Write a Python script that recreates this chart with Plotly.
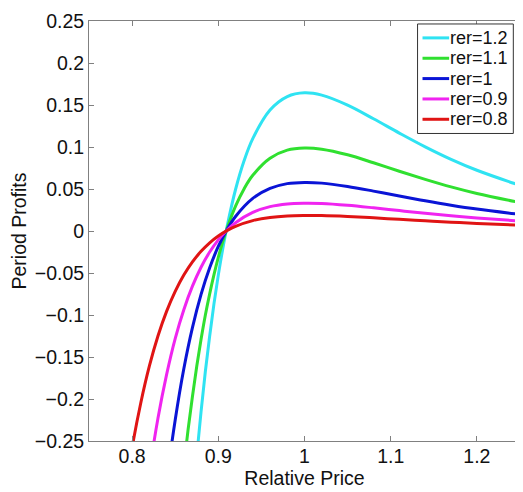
import plotly.graph_objects as go

# Relative price grids and period profits
x_red = [0.79, 0.80, 0.81, 0.82, 0.83, 0.84, 0.85, 0.86, 0.87, 0.88, 0.89, 0.90, 0.91, 0.92, 0.94, 0.96, 0.98, 1.00,
         1.02, 1.05, 1.08, 1.11, 1.14, 1.17, 1.20, 1.25]
y_red = [-0.324, -0.258, -0.205, -0.161, -0.125, -0.0957, -0.0719, -0.0525, -0.0368, -0.0242, -0.0140, -0.0059,
         0.0005, 0.0056, 0.0124, 0.0162, 0.0180, 0.0185,
         0.0184, 0.0173, 0.0157, 0.0139, 0.0122, 0.0105, 0.0090, 0.0070]

x_magenta = [0.81, 0.82, 0.83, 0.84, 0.85, 0.86, 0.87, 0.88, 0.89, 0.90, 0.91, 0.92, 0.94, 0.96, 0.98, 1.00,
             1.02, 1.05, 1.08, 1.11, 1.14, 1.17, 1.20, 1.25]
y_magenta = [-0.365, -0.287, -0.223, -0.171, -0.128, -0.0937, -0.0657, -0.0431, -0.0250, -0.0105,
             0.0009, 0.0099, 0.0221, 0.0290, 0.0322, 0.0330,
             0.0327, 0.0306, 0.0276, 0.0243, 0.0211, 0.0182, 0.0156, 0.0119]

x_blue = [0.83, 0.84, 0.85, 0.86, 0.87, 0.88, 0.89, 0.90, 0.91, 0.92, 0.94, 0.96, 0.98, 1.00,
          1.02, 1.05, 1.08, 1.11, 1.14, 1.17, 1.20, 1.25]
y_blue = [-0.391, -0.299, -0.225, -0.164, -0.115, -0.0755, -0.0438, -0.0184, 0.0016, 0.0173, 0.0388, 0.0507,
          0.0564, 0.0578,
          0.0570, 0.0530, 0.0475, 0.0416, 0.0359, 0.0307, 0.0261, 0.0197]

x_green = [0.85, 0.855, 0.86, 0.865, 0.87, 0.875, 0.88, 0.885, 0.89, 0.895, 0.90, 0.905, 0.91, 0.92, 0.93, 0.94,
           0.96, 0.98, 1.00, 1.02, 1.05, 1.08, 1.11, 1.14, 1.17, 1.20, 1.25]
y_green = [-0.384, -0.329, -0.280, -0.236, -0.197, -0.161, -0.129, -0.100, -0.0748, -0.0520, -0.0315, -0.0133,
           0.0027, 0.0296, 0.0504, 0.0663, 0.0867, 0.0963, 0.0988,
           0.0974, 0.0907, 0.0812, 0.0711, 0.0615, 0.0525, 0.0447, 0.0338]

x_cyan = [0.865, 0.87, 0.875, 0.88, 0.885, 0.89, 0.895, 0.90, 0.905, 0.91, 0.92, 0.93, 0.94, 0.96, 0.98, 1.00,
          1.02, 1.05, 1.08, 1.11, 1.14, 1.17, 1.20, 1.25]
y_cyan = [-0.393, -0.327, -0.268, -0.215, -0.167, -0.125, -0.0865, -0.0525, -0.0222, 0.0045, 0.0494, 0.0839,
          0.110, 0.144, 0.160, 0.1645,
          0.1617, 0.1498, 0.1336, 0.1166, 0.1002, 0.0853, 0.0723, 0.0543]

series_names = ["rer=1.2", "rer=1.1", "rer=1", "rer=0.9", "rer=0.8"]

x_tickvals = [0.8, 0.9, 1.0, 1.1, 1.2]
x_ticktext = ["0.8", "0.9", "1", "1.1", "1.2"]
y_tickvals = [0.25, 0.2, 0.15, 0.1, 0.05, 0, -0.05, -0.1, -0.15, -0.2, -0.25]
y_ticktext = ["0.25", "0.2", "0.15", "0.1", "0.05", "0", "\u22120.05", "\u22120.1", "\u22120.15", "\u22120.2", "\u22120.25"]

colors = ["#2fe3f2", "#30e030", "#0a14d6", "#f024f0", "#e01414"]
xs = [x_cyan, x_green, x_blue, x_magenta, x_red]
ys = [y_cyan, y_green, y_blue, y_magenta, y_red]

FONT = "Liberation Sans, Arial, Helvetica, sans-serif"
FS = 19.5
LFS = 18
TXT = "#111111"

fig = go.Figure()
for name, xv, yv, c in zip(series_names, xs, ys, colors):
    fig.add_trace(go.Scatter(x=xv, y=yv, mode="lines", name=name, showlegend=False,
                             line=dict(color=c, width=3, shape="spline", smoothing=1.0)))

# MATLAB-style boxed legend (box, line samples, labels) in paper coordinates
leg_x0, leg_x1, leg_y0, leg_y1 = 0.7623, 0.9845, 0.7322, 0.9929
row_y = [0.9598, 0.9113, 0.8629, 0.8144, 0.7660]
shapes = [dict(type="rect", xref="paper", yref="paper", x0=leg_x0, x1=leg_x1, y0=leg_y0, y1=leg_y1,
               line=dict(color="#333333", width=1), fillcolor="white", layer="above")]
annotations = []
for name, c, ry in zip(series_names, colors, row_y):
    shapes.append(dict(type="line", xref="paper", yref="paper", x0=0.7738, x1=0.8356, y0=ry, y1=ry,
                       line=dict(color=c, width=3), layer="above"))
    annotations.append(dict(xref="paper", yref="paper", x=0.836, y=ry, text=name, showarrow=False,
                            xanchor="left", yanchor="middle", borderpad=0,
                            font=dict(family=FONT, size=LFS, color=TXT)))

axis_common = dict(
    showgrid=False, zeroline=False, showline=True, linecolor="#808080", linewidth=1,
    mirror="ticks", ticks="inside", ticklen=5, tickcolor="#808080",
    tickfont=dict(family=FONT, size=FS, color=TXT), ticklabeloverflow="allow",
)

fig.update_layout(
    width=515, height=484,
    margin=dict(l=81, r=2, t=10, b=51),
    paper_bgcolor="white", plot_bgcolor="white",
    font=dict(family=FONT, size=FS, color=TXT),
    showlegend=False,
    shapes=shapes,
    annotations=annotations,
    xaxis=dict(range=[0.75, 1.25], tickvals=x_tickvals, ticktext=x_ticktext, ticklabelstandoff=-2,
               title=dict(text="Relative Price", standoff=0, font=dict(family=FONT, size=FS, color=TXT)),
               **axis_common),
    yaxis=dict(range=[-0.25, 0.25], tickvals=y_tickvals, ticktext=y_ticktext,
               title=dict(text="Period Profits", standoff=3, font=dict(family=FONT, size=FS, color=TXT)),
               **axis_common),
)

fig.write_html("out.html")
